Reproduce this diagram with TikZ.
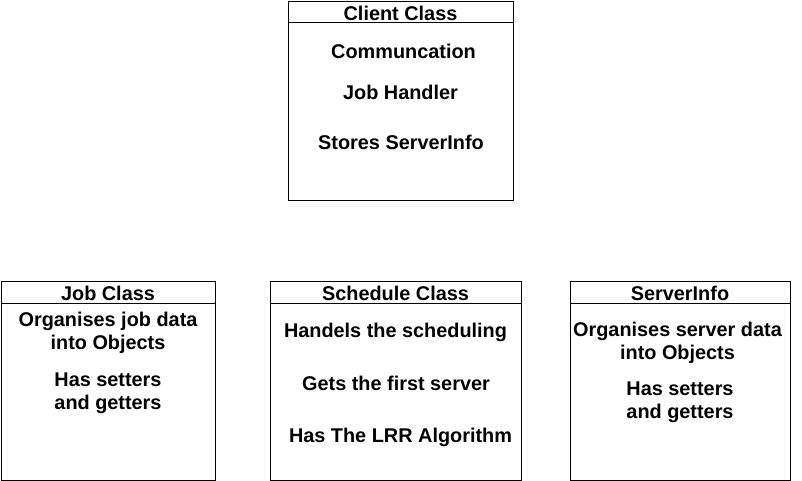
\documentclass[tikz,border=0pt]{standalone}
\usepackage{fontspec}
\setmainfont{Liberation Sans}
\begin{document}
\begin{tikzpicture}[x=0.75pt,y=-0.75pt,
  box/.style={draw=black, line width=0.75pt, anchor=north west, inner sep=0pt, minimum height=149.25pt},
  txt/.style={inner sep=0pt, align=center, yshift=-1.1pt, font=\fontsize{14.9pt}{17.25pt}\selectfont\bfseries},
  hline/.style={draw=black, line width=0.75pt}]
\useasboundingbox (0,0) rectangle (802,481);
% boxes
\node[box, minimum width=168.75pt] (client) at (288,1) {};
\node[box, minimum width=160.5pt] (job) at (1,281) {};
\node[box, minimum width=188.25pt] (sched) at (270,281) {};
\node[box, minimum width=165pt] (server) at (570,281) {};
% header separators
\foreach \b in {client,job,sched,server}{
  \draw[hline] ([yshift=-16.5pt]\b.north west) -- ([yshift=-16.5pt]\b.north east);
}
% client
\node[txt] (ct) at (400.5,12) {Client Class};
\node[txt] (c1) at (403.5,50) {Communcation};
\node[txt] (c2) at (400.5,91) {Job Handler};
\node[txt] (c3) at (401,141) {Stores ServerInfo};
% job
\node[txt] (jt) at (108,292) {Job Class};
\node[txt] (j1) at (108,331.5) {Organises job data\\into Objects};
\node[txt] (j2) at (108,391.5) {Has setters\\and getters};
% schedule
\node[txt] (st) at (395.5,292) {Schedule Class};
\node[txt] (s1) at (395.5,331) {Handels the scheduling};
\node[txt] (s2) at (396,382) {Gets the first server};
\node[txt] (s3) at (400.5,436) {Has The LRR Algorithm};
% serverinfo
\node[txt] (vt) at (680,292) {ServerInfo};
\node[txt] (v1) at (677.5,341.5) {Organises server data\\into Objects};
\node[txt] (v2) at (680,400.5) {Has setters\\and getters};
\end{tikzpicture}
\end{document}
